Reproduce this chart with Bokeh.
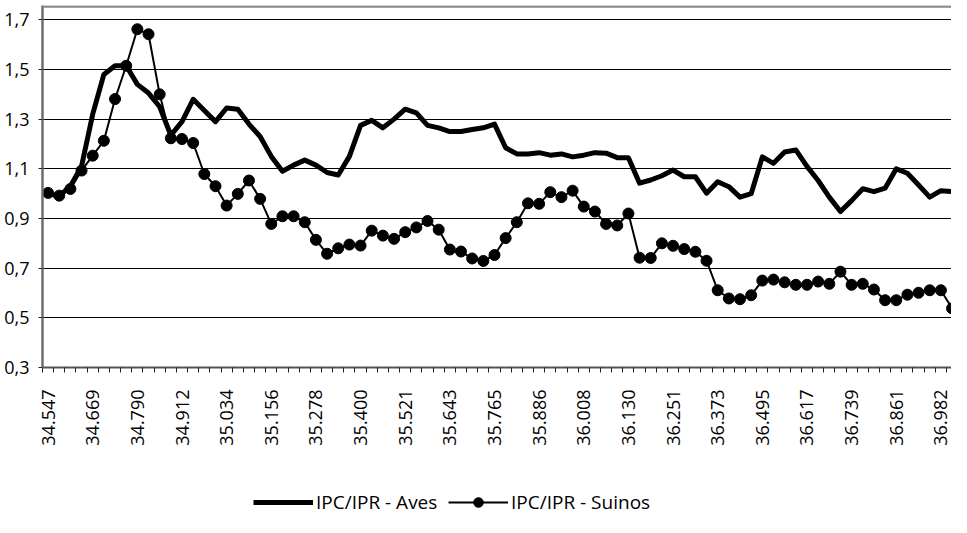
from bokeh.plotting import figure
from bokeh.models import (Range1d, FixedTicker, Legend, LegendItem, Span,
                          CustomJSTickFormatter, ColumnDataSource)
from bokeh.layouts import column
from bokeh.embed import file_html
from bokeh.resources import INLINE
import math

# Monthly categories (Excel date serials, label every 4th month)
x_labels = ["34.547", "34.669", "34.790", "34.912", "35.034", "35.156", "35.278",
            "35.400", "35.521", "35.643", "35.765", "35.886", "36.008", "36.130",
            "36.251", "36.373", "36.495", "36.617", "36.739", "36.861", "36.982"]

aves = [1.00, 0.99, 1.03, 1.11, 1.32, 1.48, 1.515, 1.515, 1.44, 1.405,
        1.35, 1.235, 1.29, 1.38, 1.335, 1.29, 1.345, 1.34, 1.28, 1.23,
        1.15, 1.09, 1.115, 1.135, 1.115, 1.085, 1.075, 1.15, 1.275, 1.295,
        1.265, 1.30, 1.34, 1.325, 1.275, 1.265, 1.25, 1.25, 1.258, 1.265,
        1.28, 1.185, 1.16, 1.16, 1.165, 1.155, 1.16, 1.148, 1.155, 1.165,
        1.163, 1.145, 1.145, 1.042, 1.055, 1.072, 1.095, 1.068, 1.068, 1.002,
        1.048, 1.028, 0.986, 1.00, 1.148, 1.122, 1.168, 1.176, 1.11, 1.053,
        0.986, 0.928, 0.972, 1.02, 1.008, 1.022, 1.10, 1.082, 1.035, 0.986,
        1.012, 1.008, 1.015]

suinos = [1.003, 0.992, 1.019, 1.093, 1.153, 1.213, 1.381, 1.515, 1.662, 1.642,
          1.40, 1.223, 1.22, 1.204, 1.079, 1.03, 0.952, 0.999, 1.053, 0.979,
          0.878, 0.909, 0.909, 0.885, 0.814, 0.758, 0.78, 0.795, 0.791, 0.851,
          0.831, 0.818, 0.845, 0.864, 0.89, 0.855, 0.775, 0.767, 0.739, 0.729,
          0.753, 0.821, 0.885, 0.961, 0.959, 1.006, 0.986, 1.012, 0.948, 0.928,
          0.878, 0.872, 0.92, 0.742, 0.741, 0.80, 0.79, 0.777, 0.766, 0.73,
          0.611, 0.578, 0.575, 0.591, 0.65, 0.654, 0.643, 0.633, 0.633, 0.646,
          0.637, 0.686, 0.633, 0.637, 0.614, 0.571, 0.571, 0.593, 0.601, 0.611,
          0.611, 0.538, 0.466]

y_ticks = [0.3, 0.5, 0.7, 0.9, 1.1, 1.3, 1.5, 1.7]
series_names = ["IPC/IPR - Aves", "IPC/IPR - Suinos"]

n = len(aves)
x = list(range(n))
src = ColumnDataSource(data=dict(x=x, aves=aves, suinos=suinos))

FONT = "Open Sans"

p = figure(frame_width=909, frame_height=362, output_backend="svg", toolbar_location=None,
           x_range=Range1d(-0.5, 80.95), y_range=Range1d(0.3, 1.7576),
           min_border_left=42, min_border_right=0, min_border_top=5,
           min_border_bottom=88, outline_line_color=None)
p.background_fill_color = "white"
p.border_fill_color = "white"

# x axis: labels at category centres, tick marks at category boundaries
label_pos = list(range(0, 4 * len(x_labels), 4))
xa = p.xaxis[0]
xa.ticker = FixedTicker(ticks=label_pos, minor_ticks=[k - 0.5 for k in range(n + 1)])
xa.major_label_overrides = {k: lab for k, lab in zip(label_pos, x_labels)}
xa.major_label_orientation = math.pi / 2
xa.major_tick_out = 0
xa.major_tick_in = 0
xa.minor_tick_out = 5
xa.minor_tick_in = 0
xa.minor_tick_line_color = "#222222"
xa.minor_tick_line_width = 1
xa.axis_line_color = "#555555"
xa.axis_line_width = 2
xa.major_label_standoff = 17
xa.major_label_text_font = FONT
xa.major_label_text_font_size = "18px"
xa.major_label_text_color = "black"

ya = p.yaxis[0]
ya.ticker = FixedTicker(ticks=y_ticks)
ya.formatter = CustomJSTickFormatter(code="return tick.toFixed(1).replace('.', ',');")
ya.major_tick_out = 4
ya.major_tick_in = 0
ya.minor_tick_line_color = None
ya.major_tick_line_color = "#222222"
ya.axis_line_color = "#6e6e6e"
ya.axis_line_width = 2.5
ya.major_label_standoff = 9
ya.major_label_text_font = FONT
ya.major_label_text_font_size = "18px"
ya.major_label_text_color = "black"

p.xgrid.grid_line_color = None
p.ygrid.ticker = FixedTicker(ticks=y_ticks[1:])
p.ygrid.grid_line_color = "black"
p.ygrid.grid_line_width = 1

# top border of plot area
p.add_layout(Span(location=1.7535, dimension="width", line_color="#888888",
                  line_width=2.5))

p.line("x", "aves", source=src, line_color="black", line_width=5, line_join="round")
p.line("x", "suinos", source=src, line_color="black", line_width=2)
p.scatter("x", "suinos", source=src, marker="circle", size=11,
          fill_color="black", line_color="black")

# legend strip below the chart (same series, drawn only as legend keys)
p2 = figure(width=951, height=60, output_backend="svg", toolbar_location=None,
            x_range=Range1d(200, 201), y_range=Range1d(10, 11),
            min_border=0, outline_line_color=None)
p2.axis.visible = False
p2.grid.visible = False
la = p2.line("x", "aves", source=src, line_color="black", line_width=5)
ls = p2.line("x", "suinos", source=src, line_color="black", line_width=2)
lm = p2.scatter("x", "suinos", source=src, marker="circle", size=11,
                fill_color="black", line_color="black")

common = dict(orientation="horizontal", border_line_color=None,
              background_fill_alpha=0, padding=0, label_standoff=3,
              glyph_width=60, glyph_height=24, margin=0,
              label_text_font=FONT, label_text_font_size="19px",
              label_text_color="black")
leg1 = Legend(items=[LegendItem(label=series_names[0], renderers=[la])],
              location=(211, 0), **common)
leg2 = Legend(items=[LegendItem(label=series_names[1], renderers=[ls, lm])],
              location=(406, 0), **common)
p2.add_layout(leg1, "center")
p2.add_layout(leg2, "center")

layout = column(p, p2, spacing=0)
open("out.html", "w").write(file_html(layout, INLINE))
